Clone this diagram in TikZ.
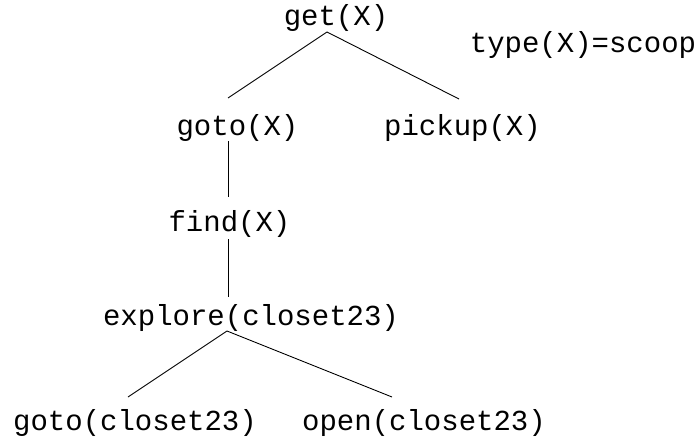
\documentclass[tikz,border=0pt]{standalone}
\usepackage{fontspec}
\setmonofont{Liberation Mono}
\begin{document}
\begin{tikzpicture}[x=1pt,y=-1pt,
  lbl/.style={font=\ttfamily\fontsize{29}{32}\selectfont, anchor=base, inner sep=0pt},
  edge/.style={line width=0.9pt, black}]
\useasboundingbox (0,0) rectangle (700,437);
% labels
\node[lbl] (get)     at (336,25)  {get(X)};
\node[lbl] (type)    at (583,52)  {type(X)=scoop};
\node[lbl] (gotoX)   at (237.5,135) {goto(X)};
\node[lbl] (pickup)  at (462.5,135) {pickup(X)};
\node[lbl] (find)    at (229.5,231) {find(X)};
\node[lbl] (explore) at (251,325) {explore(closet23)};
\node[lbl] (gotoC)   at (135,430) {goto(closet23)};
\node[lbl] (openC)   at (424,430) {open(closet23)};
% connector ends
\coordinate (getB)     at (327,32);
\coordinate (gotoXT)   at (228,98);
\coordinate (pickupT)  at (459,99);
\coordinate (gotoXB)   at (228,141);
\coordinate (findT)    at (228,197);
\coordinate (findB)    at (228,239);
\coordinate (exploreT) at (228,297);
\coordinate (exploreB) at (227,331);
\coordinate (gotoCT)   at (128,397);
\coordinate (openCT)   at (392,397);
% connectors
\draw[edge] (getB) -- (gotoXT);
\draw[edge] (getB) -- (pickupT);
\draw[edge] (gotoXB) -- (findT);
\draw[edge] (findB) -- (exploreT);
\draw[edge] (exploreB) -- (gotoCT);
\draw[edge] (exploreB) -- (openCT);
\end{tikzpicture}
\end{document}
